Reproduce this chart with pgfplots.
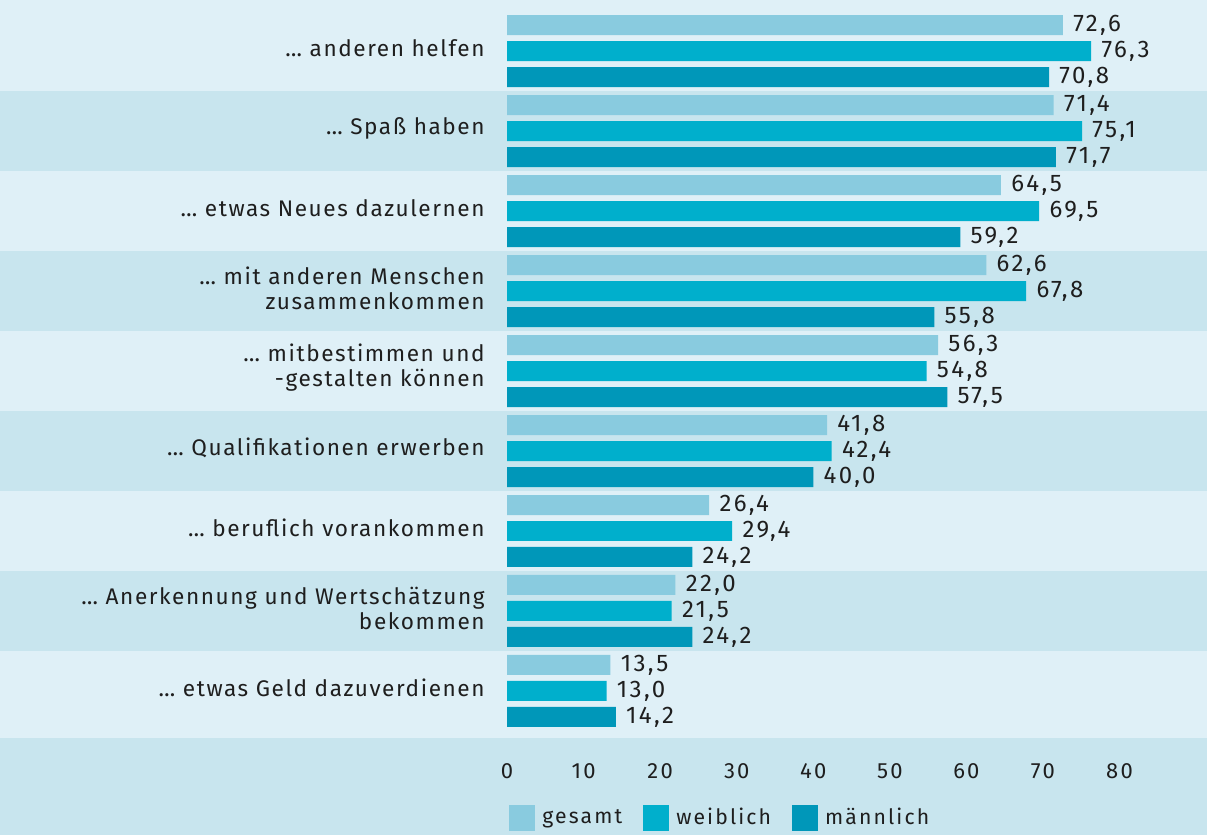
\documentclass[border=0pt]{standalone}
\usepackage{fontspec}
\setmainfont{Fira Sans}[LetterSpace=10]
\newfontfamily\catfam{Fira Sans}[LetterSpace=7]
\usepackage{pgfplots}
\pgfplotsset{compat=1.18}

\definecolor{bglight}{HTML}{DFF0F7}
\definecolor{bgdark}{HTML}{C8E5EE}
\definecolor{cges}{HTML}{89CBDF}
\definecolor{cwei}{HTML}{00AFCC}
\definecolor{cmae}{HTML}{0097B9}
\definecolor{txt}{HTML}{1E1E1E}

\newcommand{\catfont}{\catfam\fontsize{11.3}{12.5}\selectfont}
\newcommand{\valfont}{\fontsize{12}{14}\selectfont}
\newcommand{\tickfont}{\fontsize{11}{13}\selectfont}
\newcommand{\legfont}{\fontsize{10.6}{13}\selectfont}

\begin{document}
\begin{tikzpicture}
\begin{axis}[
  set layers,
  scale only axis,
  width=603.5pt, height=417.5pt,
  xmin=-66.2, xmax=91.4,
  ymin=-1.8, ymax=8.6375,
  xbar, bar width=10pt,
  axis line style={draw=none},
  major tick length=0pt,
  xtick={0,10,...,80},
  ytick={0,...,8},
  yticklabels={
    {… etwas Geld dazuverdienen},
    {… Anerkennung und Wertschätzung\\bekommen},
    {… beruflich vorankommen},
    {… Qualifikationen erwerben},
    {… mitbestimmen und\\-gestalten können},
    {… mit anderen Menschen\\zusammenkommen},
    {… etwas Neues dazulernen},
    {… Spaß haben},
    {… anderen helfen}},
  yticklabel style={anchor=east, align=right, inner sep=0pt, xshift=242.5pt,
    yshift=1.5pt, font=\catfont, text=txt},
  xticklabel style={anchor=center, yshift=32pt, font=\tickfont, text=txt},
  /pgf/number format/assume math mode=true,
  point meta=x,
  nodes near coords={\pgfmathprintnumber[fixed,fixed zerofill,precision=1,use comma,assume math mode=true]{\pgfplotspointmeta}},
  nodes near coords style={font=\valfont, text=txt, anchor=west, inner sep=0pt, xshift=5pt},
  legend columns=3,
  legend style={draw=none, fill=none, at={(axis cs:0,-1.8)}, anchor=south west,
    inner sep=0pt, xshift=1pt, yshift=1.5pt, font=\legfont, text=txt,
    /tikz/every odd column/.append style={column sep=1.5pt},
    /tikz/every even column/.append style={column sep=8.5pt}},
  legend image code/.code={\fill[#1] (0pt,-6.5pt) rectangle (13pt,6.5pt);},
]
\begin{pgfonlayer}{axis background}
  \fill[bglight] (axis cs:-66.2,7.5) rectangle (axis cs:91.4,8.6375);
  \fill[bgdark]  (axis cs:-66.2,6.5) rectangle (axis cs:91.4,7.5);
  \fill[bglight] (axis cs:-66.2,5.5) rectangle (axis cs:91.4,6.5);
  \fill[bgdark]  (axis cs:-66.2,4.5) rectangle (axis cs:91.4,5.5);
  \fill[bglight] (axis cs:-66.2,3.5) rectangle (axis cs:91.4,4.5);
  \fill[bgdark]  (axis cs:-66.2,2.5) rectangle (axis cs:91.4,3.5);
  \fill[bglight] (axis cs:-66.2,1.5) rectangle (axis cs:91.4,2.5);
  \fill[bgdark]  (axis cs:-66.2,0.5) rectangle (axis cs:91.4,1.5);
  \fill[bglight] (axis cs:-66.2,-0.5875) rectangle (axis cs:91.4,0.5);
  \fill[bgdark]  (axis cs:-66.2,-1.8) rectangle (axis cs:91.4,-0.5875);
\end{pgfonlayer}

% gesamt
\addplot[fill=cges, draw=none, bar shift=13pt] coordinates {
  (13.5,0) (22.0,1) (26.4,2) (41.8,3) (56.3,4) (62.6,5) (64.5,6) (71.4,7) (72.6,8)
};
% weiblich
\addplot[fill=cwei, draw=none, bar shift=0pt] coordinates {
  (13.0,0) (21.5,1) (29.4,2) (42.4,3) (54.8,4) (67.8,5) (69.5,6) (75.1,7) (76.3,8)
};
% maennlich
\addplot[fill=cmae, draw=none, bar shift=-13pt] coordinates {
  (14.2,0) (24.2,1) (24.2,2) (40.0,3) (57.5,4) (55.8,5) (59.2,6) (71.7,7) (70.8,8)
};
\legend{gesamt, weiblich, männlich}
\end{axis}
\end{tikzpicture}
\end{document}
